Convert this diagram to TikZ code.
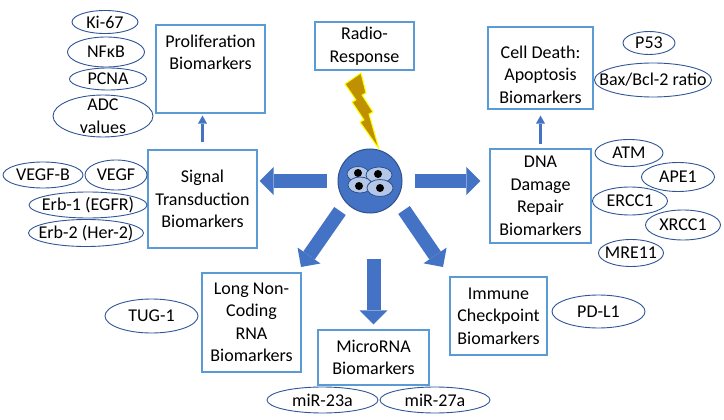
\documentclass[tikz,border=0pt]{standalone}
\usepackage{fontspec}
\setmainfont{Carlito}
\usetikzlibrary{arrows.meta,shapes.geometric,positioning}
\definecolor{boxblue}{RGB}{91,155,213}
\definecolor{ovalblue}{RGB}{47,85,151}
\definecolor{arrowblue}{RGB}{68,114,196}
\definecolor{celledge}{RGB}{47,82,143}
\definecolor{cellpale}{RGB}{180,199,231}
\definecolor{boltgold}{RGB}{191,144,0}
\definecolor{boltedge}{RGB}{255,255,0}
\begin{document}
\begin{tikzpicture}[x=1pt,y=-1pt,font=\fontsize{18}{22.5}\selectfont]

    \tikzset{
      box/.style={
        draw=boxblue,
        line width=1.1pt,
        align=center,
        inner sep=0pt,
      },
      boxtext/.style={
        align=center,
        inner sep=0pt,
      },
      oval/.style={
        ellipse,
        draw=ovalblue,
        line width=0.9pt,
        align=center,
        inner xsep=-15pt,
        inner ysep=-5pt,
      },
      blockarrow/.style={
        arrowblue,
        line width=14pt,
        -{Triangle[length=14pt,width=28pt,line width=0pt]},
      },
      thinarrow/.style={
        arrowblue,
        line width=3.5pt,
        -{Triangle[length=8pt,width=9pt,line width=0pt]},
      },
    }
    \useasboundingbox (0,0) rectangle (724,420);

	\node[box, minimum width=99pt, minimum height=48pt] (radio) at (364.5,46) {Radio-\\Response};
	\node[box, minimum width=109pt, minimum height=88pt, label={[boxtext, anchor=north, yshift=-10pt]north:{Proliferation\\Biomarkers}}] (prolif) at (210.5,69) {};
	\node[box, minimum width=109pt, minimum height=98pt] (sig) at (202.5,199) {Signal\\Transduction\\Biomarkers};
	\node[box, minimum width=105pt, minimum height=82pt, label={[boxtext, anchor=south, yshift=6pt]south:{Cell Death:\\Apoptosis\\Biomarkers}}] (death) at (540.5,68) {};
	\node[box, minimum width=101pt, minimum height=94pt] (dna) at (540.5,196) {DNA\\Damage\\Repair\\Biomarkers};
	\node[box, minimum width=99pt, minimum height=99pt] (lnc) at (251.5,322.5) {Long Non-\\Coding\\RNA\\Biomarkers};
	\node[box, minimum width=111pt, minimum height=55pt] (mirna) at (373.5,357.5) {MicroRNA\\Biomarkers};
	\node[box, minimum width=97pt, minimum height=78pt] (immune) at (498.5,316) {Immune\\Checkpoint\\Biomarkers};

	\node[oval, minimum width=66pt, minimum height=23pt] (ki) at (105,22) {Ki-67};
	\node[oval, minimum width=77pt, minimum height=30pt] (nfkb) at (106,52) {NFκB};
	\node[oval, minimum width=77pt, minimum height=22pt] (pcna) at (108,79) {PCNA};
	\node[oval, minimum width=100pt, minimum height=42pt] (adc) at (103,116) {ADC\\values};
	\node[oval, minimum width=80pt, minimum height=26pt] (vegfb) at (43,175) {VEGF-B};
	\node[oval, minimum width=62pt, minimum height=30pt] (vegf) at (116,175) {VEGF};
	\node[oval, minimum width=118pt, minimum height=26pt] (erbone) at (88,205) {Erb-1 (EGFR)};
	\node[oval, minimum width=115pt, minimum height=27pt] (erbtwo) at (86,233) {Erb-2 (Her-2)};
	\node[oval, minimum width=52pt, minimum height=23pt] (p53) at (649,43) {P53};
	\node[oval, minimum width=117pt, minimum height=34pt] (bax) at (653,80) {Bax/Bcl-2 ratio};
	\node[oval, minimum width=68pt, minimum height=27pt] (atm) at (629,153) {ATM};
	\node[oval, minimum width=73pt, minimum height=29pt] (apeone) at (678,177) {APE1};
	\node[oval, minimum width=75pt, minimum height=28pt] (ercc) at (630,201) {ERCC1};
	\node[oval, minimum width=75pt, minimum height=30pt] (xrcc) at (683,225) {XRCC1};
	\node[oval, minimum width=65pt, minimum height=27pt] (mre) at (631,253) {MRE11};
	\node[oval, minimum width=93pt, minimum height=34pt] (tug) at (151.5,316) {TUG-1};
	\node[oval, minimum width=93pt, minimum height=33pt] (pdl) at (598.5,311.5) {PD-L1};
	\node[oval, minimum width=111pt, minimum height=26pt] (mirtt) at (322.5,400) {miR-23a};
	\node[oval, minimum width=110pt, minimum height=26pt] (mirts) at (435,400) {miR-27a};

	\node[circle, fill=arrowblue, draw=celledge, line width=1pt, minimum size=64pt, inner sep=0pt] (cell) at (370,181) {};
	\draw[celledge, fill=cellpale, line width=0.8pt] (358,174) ellipse (11 and 7.5);
	\fill (358,173) circle (4);
	\draw[celledge, fill=cellpale, line width=0.8pt] (379,175) ellipse (13 and 8);
	\fill (378,174) circle (4);
	\draw[celledge, fill=cellpale, line width=0.8pt] (360,185) ellipse (12 and 8);
	\fill (359,186) circle (4);
	\draw[celledge, fill=cellpale, line width=0.8pt] (380,188) ellipse (13 and 8.5);
	\fill (380,188) circle (4);

	\draw[fill=boltgold, draw=boltedge, line width=1pt, line join=round] (345,84) -- (361,73) -- (366,93) -- (362,95) -- (373,112) -- (369,114) -- (379,149) -- (360,122) -- (364,120) -- (352,102) -- (356,100) -- cycle;

	\draw[blockarrow, shorten <=11pt, shorten >=2pt] (cell.west) -- (cell.west -| sig.east);
	\draw[blockarrow, shorten <=12pt, shorten >=9pt] (cell.east) -- (cell.east -| dna.west);
	\draw[blockarrow, shorten <=45pt, shorten >=5pt] (cell.south -| mirna.north) -- (mirna.north);
	\draw[blockarrow] ([shift={(-30,30)}]cell.center) -- ([shift={(-69,86)}]cell.center);
	\draw[blockarrow] ([shift={(34,29)}]cell.center) -- ([shift={(73,86)}]cell.center);

	\draw[thinarrow, shorten <=7pt, shorten >=2pt] (sig.north) -- (sig.north |- prolif.south);
	\draw[thinarrow, shorten <=4pt, shorten >=6pt] (dna.north) -- (death.south);

\end{tikzpicture}
\end{document}
